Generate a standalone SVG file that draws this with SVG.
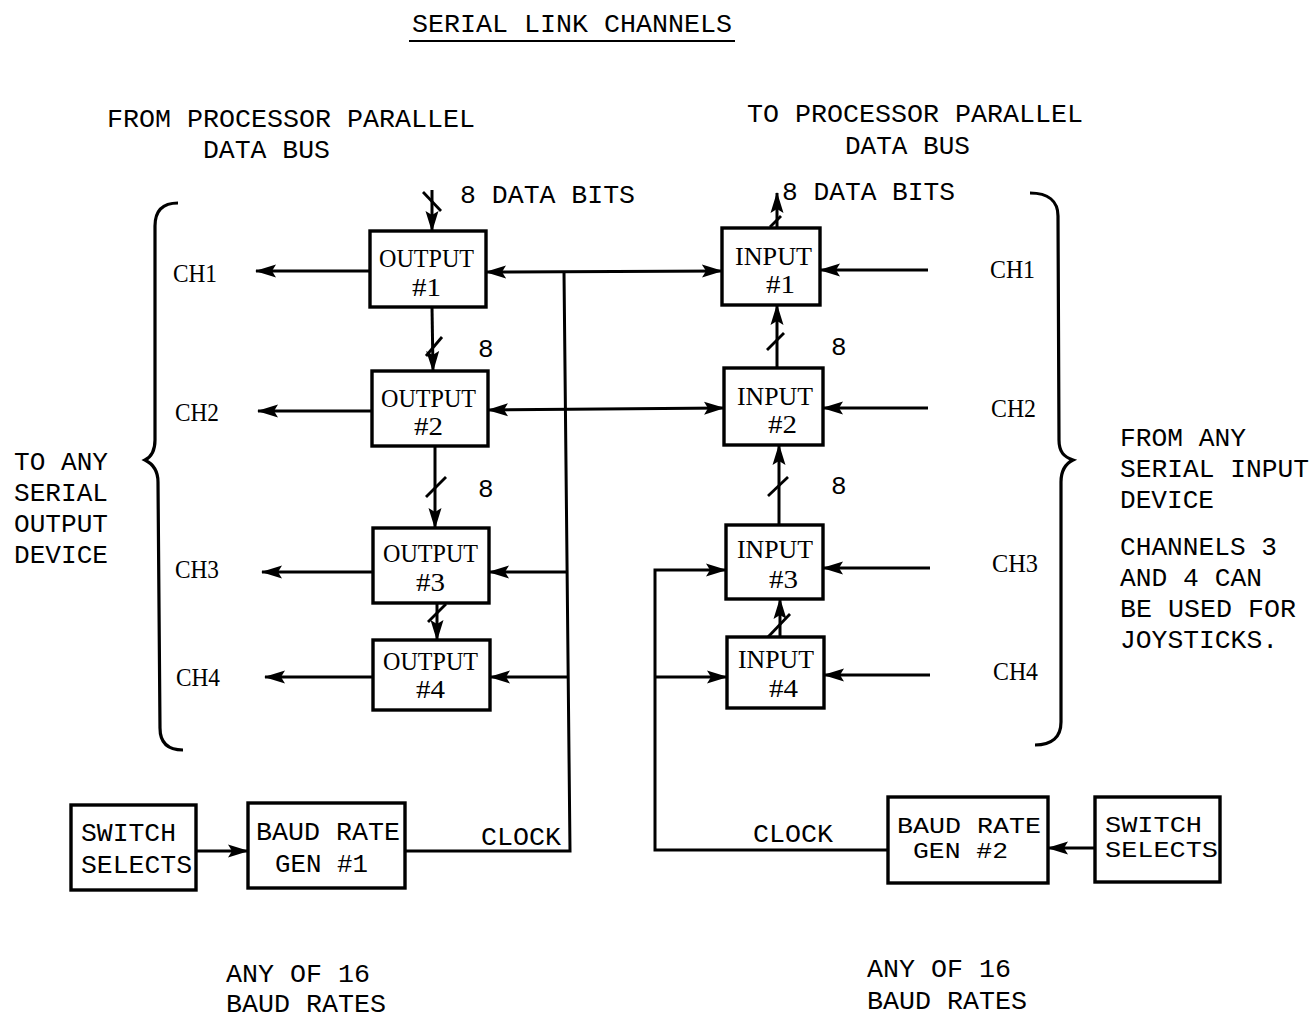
<svg xmlns="http://www.w3.org/2000/svg" width="1314" height="1018" viewBox="0 0 1314 1018">
<style>
.mono{font-family:"Liberation Mono","DejaVu Sans Mono",monospace;font-size:26px;fill:#000}
.sm{font-size:22px}
.ser{font-family:"Liberation Serif","DejaVu Serif",serif;font-size:25px;fill:#000}
.box{fill:#fff;stroke:#000;stroke-width:3.4}
.ln{fill:none;stroke:#000;stroke-width:3}
.sl{fill:none;stroke:#000;stroke-width:2.8}
.br{fill:none;stroke:#000;stroke-width:3.2}
</style>
<defs>
<marker id="ah" markerWidth="22" markerHeight="16" refX="20" refY="8" orient="auto-start-reverse" markerUnits="userSpaceOnUse">
<path d="M0,1.5 L21,8 L0,14.5 L4,8 z" fill="#000"/>
</marker>
</defs>
<rect width="1314" height="1018" fill="#fff"/>

<g id="title">
<text class="mono" x="412" y="32" textLength="320" lengthAdjust="spacingAndGlyphs">SERIAL LINK CHANNELS</text>
<line x1="409" y1="41" x2="735" y2="41" stroke="#000" stroke-width="2"/>
</g>

<g id="labels">
<text class="mono" x="107" y="127" textLength="368" lengthAdjust="spacingAndGlyphs">FROM PROCESSOR PARALLEL</text>
<text class="mono" x="203" y="158" textLength="127" lengthAdjust="spacingAndGlyphs">DATA BUS</text>
<text class="mono" x="747" y="122" textLength="336" lengthAdjust="spacingAndGlyphs">TO PROCESSOR PARALLEL</text>
<text class="mono" x="845" y="154" textLength="125" lengthAdjust="spacingAndGlyphs">DATA BUS</text>
<text class="mono" x="460" y="203" textLength="175" lengthAdjust="spacingAndGlyphs">8 DATA BITS</text>
<text class="mono" x="782" y="200" textLength="173" lengthAdjust="spacingAndGlyphs">8 DATA BITS</text>
<text class="mono" x="478" y="357">8</text>
<text class="mono" x="478" y="497">8</text>
<text class="mono" x="831" y="355">8</text>
<text class="mono" x="831" y="494">8</text>
<text class="mono" x="14" y="470" textLength="94" lengthAdjust="spacingAndGlyphs">TO ANY</text>
<text class="mono" x="14" y="501" textLength="94" lengthAdjust="spacingAndGlyphs">SERIAL</text>
<text class="mono" x="14" y="532" textLength="94" lengthAdjust="spacingAndGlyphs">OUTPUT</text>
<text class="mono" x="14" y="563" textLength="94" lengthAdjust="spacingAndGlyphs">DEVICE</text>
<text class="mono" x="1120" y="446" textLength="126" lengthAdjust="spacingAndGlyphs">FROM ANY</text>
<text class="mono" x="1120" y="477" textLength="189" lengthAdjust="spacingAndGlyphs">SERIAL INPUT</text>
<text class="mono" x="1120" y="508" textLength="94" lengthAdjust="spacingAndGlyphs">DEVICE</text>
<text class="mono" x="1120" y="555" textLength="157" lengthAdjust="spacingAndGlyphs">CHANNELS 3</text>
<text class="mono" x="1120" y="586" textLength="142" lengthAdjust="spacingAndGlyphs">AND 4 CAN</text>
<text class="mono" x="1120" y="617" textLength="176" lengthAdjust="spacingAndGlyphs">BE USED FOR</text>
<text class="mono" x="1120" y="648" textLength="158" lengthAdjust="spacingAndGlyphs">JOYSTICKS.</text>
<text class="ser" x="173" y="282" textLength="44" lengthAdjust="spacingAndGlyphs">CH1</text>
<text class="ser" x="175" y="421" textLength="44" lengthAdjust="spacingAndGlyphs">CH2</text>
<text class="ser" x="175" y="578" textLength="44" lengthAdjust="spacingAndGlyphs">CH3</text>
<text class="ser" x="176" y="686" textLength="44" lengthAdjust="spacingAndGlyphs">CH4</text>
<text class="ser" x="990" y="278" textLength="45" lengthAdjust="spacingAndGlyphs">CH1</text>
<text class="ser" x="991" y="417" textLength="45" lengthAdjust="spacingAndGlyphs">CH2</text>
<text class="ser" x="992" y="572" textLength="46" lengthAdjust="spacingAndGlyphs">CH3</text>
<text class="ser" x="993" y="680" textLength="45" lengthAdjust="spacingAndGlyphs">CH4</text>
<text class="mono" x="481" y="845" textLength="80" lengthAdjust="spacingAndGlyphs">CLOCK</text>
<text class="mono" x="753" y="842" textLength="80" lengthAdjust="spacingAndGlyphs">CLOCK</text>
<text class="mono" x="226" y="982" textLength="144" lengthAdjust="spacingAndGlyphs">ANY OF 16</text>
<text class="mono" x="226" y="1012" textLength="160" lengthAdjust="spacingAndGlyphs">BAUD RATES</text>
<text class="mono" x="867" y="977" textLength="144" lengthAdjust="spacingAndGlyphs">ANY OF 16</text>
<text class="mono" x="867" y="1009" textLength="160" lengthAdjust="spacingAndGlyphs">BAUD RATES</text>
</g>

<g id="braces">
<path class="br" d="M178,203 C162,203 155,211 155,226 L155,440 C155,452 151,457 145,460 C153,464 158,471 158,482 L160,728 C160,743 168,750 183,750"/>
<path class="br" d="M1030,193 C1048,193 1058,201 1058,216 L1059,440 C1059,452 1064,457 1073,460 C1065,464 1061,471 1061,482 L1061,722 C1061,737 1052,745 1035,745"/>
</g>

<g id="connectors">
<line class="ln" x1="432" y1="190" x2="432" y2="231" marker-end="url(#ah)"/>
<line class="ln" x1="432" y1="307" x2="433" y2="371" marker-end="url(#ah)"/>
<line class="ln" x1="435" y1="446" x2="435" y2="528" marker-end="url(#ah)"/>
<line class="ln" x1="437" y1="603" x2="437" y2="640" marker-end="url(#ah)"/>
<line class="sl" x1="423" y1="192" x2="441" y2="211"/>
<line class="sl" x1="426" y1="356" x2="442" y2="337"/>
<line class="sl" x1="426" y1="497" x2="446" y2="477"/>
<line class="sl" x1="428" y1="622" x2="446" y2="604"/>

<line class="ln" x1="370" y1="271" x2="256" y2="271" marker-end="url(#ah)"/>
<line class="ln" x1="372" y1="411" x2="258" y2="411" marker-end="url(#ah)"/>
<line class="ln" x1="373" y1="572" x2="262" y2="572" marker-end="url(#ah)"/>
<line class="ln" x1="373" y1="677" x2="265" y2="677" marker-end="url(#ah)"/>

<line class="ln" x1="486" y1="272" x2="722" y2="271" marker-start="url(#ah)" marker-end="url(#ah)"/>
<line class="ln" x1="488" y1="410" x2="724" y2="408" marker-start="url(#ah)" marker-end="url(#ah)"/>
<path class="ln" d="M405,851 H570 L564,272"/>
<line class="ln" x1="567" y1="572" x2="489" y2="572" marker-end="url(#ah)"/>
<line class="ln" x1="568" y1="677" x2="490" y2="677" marker-end="url(#ah)"/>
<line class="ln" x1="196" y1="851" x2="248" y2="851" marker-end="url(#ah)"/>

<line class="ln" x1="777" y1="228" x2="777" y2="193" marker-end="url(#ah)"/>
<line class="ln" x1="777" y1="368" x2="777" y2="305" marker-end="url(#ah)"/>
<line class="ln" x1="779" y1="525" x2="779" y2="445" marker-end="url(#ah)"/>
<line class="ln" x1="780" y1="637" x2="780" y2="599" marker-end="url(#ah)"/>
<line class="sl" x1="770" y1="227" x2="781" y2="216"/>
<line class="sl" x1="767" y1="350" x2="784" y2="333"/>
<line class="sl" x1="768" y1="496" x2="788" y2="477"/>
<line class="sl" x1="768" y1="637" x2="790" y2="614"/>

<line class="ln" x1="928" y1="270" x2="820" y2="270" marker-end="url(#ah)"/>
<line class="ln" x1="928" y1="408" x2="823" y2="408" marker-end="url(#ah)"/>
<line class="ln" x1="930" y1="568" x2="823" y2="568" marker-end="url(#ah)"/>
<line class="ln" x1="930" y1="675" x2="824" y2="675" marker-end="url(#ah)"/>

<path class="ln" d="M888,850 H655 V570 H726" marker-end="url(#ah)"/>
<line class="ln" x1="655" y1="677" x2="727" y2="677" marker-end="url(#ah)"/>
<line class="ln" x1="1095" y1="848" x2="1048" y2="848" marker-end="url(#ah)"/>
</g>

<g id="output1"><rect class="box" x="370" y="231" width="116" height="76"/>
<text class="ser" x="379" y="267" textLength="95" lengthAdjust="spacingAndGlyphs">OUTPUT</text>
<text class="ser" x="412" y="296" textLength="29" lengthAdjust="spacingAndGlyphs">#1</text></g>
<g id="output2"><rect class="box" x="372" y="371" width="116" height="75"/>
<text class="ser" x="381" y="407" textLength="95" lengthAdjust="spacingAndGlyphs">OUTPUT</text>
<text class="ser" x="414" y="435" textLength="29" lengthAdjust="spacingAndGlyphs">#2</text></g>
<g id="output3"><rect class="box" x="373" y="528" width="116" height="75"/>
<text class="ser" x="383" y="562" textLength="95" lengthAdjust="spacingAndGlyphs">OUTPUT</text>
<text class="ser" x="416" y="591" textLength="29" lengthAdjust="spacingAndGlyphs">#3</text></g>
<g id="output4"><rect class="box" x="373" y="640" width="117" height="70"/>
<text class="ser" x="383" y="670" textLength="95" lengthAdjust="spacingAndGlyphs">OUTPUT</text>
<text class="ser" x="416" y="698" textLength="29" lengthAdjust="spacingAndGlyphs">#4</text></g>

<g id="input1"><rect class="box" x="722" y="228" width="98" height="77"/>
<text class="ser" x="735" y="265" textLength="77" lengthAdjust="spacingAndGlyphs">INPUT</text>
<text class="ser" x="766" y="293" textLength="29" lengthAdjust="spacingAndGlyphs">#1</text></g>
<g id="input2"><rect class="box" x="724" y="368" width="99" height="77"/>
<text class="ser" x="737" y="405" textLength="76" lengthAdjust="spacingAndGlyphs">INPUT</text>
<text class="ser" x="768" y="433" textLength="29" lengthAdjust="spacingAndGlyphs">#2</text></g>
<g id="input3"><rect class="box" x="726" y="525" width="97" height="74"/>
<text class="ser" x="737" y="558" textLength="76" lengthAdjust="spacingAndGlyphs">INPUT</text>
<text class="ser" x="769" y="588" textLength="29" lengthAdjust="spacingAndGlyphs">#3</text></g>
<g id="input4"><rect class="box" x="727" y="637" width="97" height="71"/>
<text class="ser" x="738" y="668" textLength="76" lengthAdjust="spacingAndGlyphs">INPUT</text>
<text class="ser" x="769" y="697" textLength="29" lengthAdjust="spacingAndGlyphs">#4</text></g>

<g id="switch1"><rect class="box" x="71" y="805" width="125" height="85"/>
<text class="mono" x="81" y="841" textLength="95" lengthAdjust="spacingAndGlyphs">SWITCH</text>
<text class="mono" x="81" y="873" textLength="111" lengthAdjust="spacingAndGlyphs">SELECTS</text></g>
<g id="baud1"><rect class="box" x="248" y="803" width="157" height="85"/>
<text class="mono" x="256" y="840" textLength="144" lengthAdjust="spacingAndGlyphs">BAUD RATE</text>
<text class="mono" x="275" y="872" textLength="93" lengthAdjust="spacingAndGlyphs">GEN #1</text></g>
<g id="baud2"><rect class="box" x="888" y="797" width="160" height="86"/>
<text class="mono sm" x="897" y="833" textLength="144" lengthAdjust="spacingAndGlyphs">BAUD RATE</text>
<text class="mono sm" x="913" y="858" textLength="95" lengthAdjust="spacingAndGlyphs">GEN #2</text></g>
<g id="switch2"><rect class="box" x="1095" y="797" width="125" height="85"/>
<text class="mono sm" x="1105" y="832" textLength="97" lengthAdjust="spacingAndGlyphs">SWITCH</text>
<text class="mono sm" x="1105" y="857" textLength="113" lengthAdjust="spacingAndGlyphs">SELECTS</text></g>
</svg>
